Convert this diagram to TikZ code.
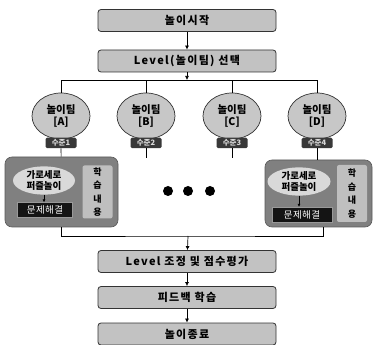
\documentclass[tikz,border=0pt]{standalone}
\usepackage{fontspec}
\setmainfont{Noto Sans CJK KR}
\usetikzlibrary{arrows.meta,shapes.geometric}
\tikzset{
  flowbox/.style={draw=black!80, line width=0.8pt, fill=black!24, rounded corners=3pt,
    minimum width=178pt, minimum height=22pt, inner sep=0pt,
    font=\bfseries\fontsize{11}{12}\selectfont\addfontfeature{LetterSpace=12}},
  team/.style={ellipse, draw=black!80, line width=0.7pt, fill=black!22, minimum width=58pt,
    minimum height=46pt, inner sep=0pt, align=center,
    font=\bfseries\fontsize{10.5}{12}\selectfont},
  lvl/.style={fill=black!78, text=black!15, rounded corners=1.5pt, minimum width=31pt,
    minimum height=10.5pt, inner sep=0pt, font=\bfseries\fontsize{7.5}{8}\selectfont},
  group/.style={fill=black!50, draw=black!65, line width=0.6pt, rounded corners=7pt, inner sep=0pt},
  puzzle/.style={ellipse, fill=black!15, inner sep=0pt, align=center,
    font=\bfseries\fontsize{9.5}{11}\selectfont},
  solve/.style={fill=black!92, text=white, inner sep=0pt, draw=black!40,
    font=\fontsize{9.5}{10}\selectfont\addfontfeature{LetterSpace=5}},
  learn/.style={fill=black!25, rounded corners=2pt, inner sep=0pt, align=center,
    font=\bfseries\fontsize{9}{13.5}\selectfont},
  dot/.style={circle, fill=black, minimum size=10pt, inner sep=0pt},
  conn/.style={draw=black, line width=0.7pt},
  arr/.style={-{Latex[length=4pt,width=4pt]}}
}
\begin{document}
\begin{tikzpicture}[x=1pt,y=-1pt]
\useasboundingbox (0,0) rectangle (373,345);
\fill[white] (0,0) rectangle (373,345);

% main flow boxes
\node[flowbox] (start) at (187,20.5) {놀이시작};
\node[flowbox] (level) at (187,61) {Level(놀이팀) 선택};
\node[flowbox] (adjust) at (187,261.5) {Level 조정 및 점수평가};
\node[flowbox] (feed) at (187,297.5) {피드백 학습};
\node[flowbox] (end) at (187,334) {놀이종료};

% teams
\node[team] (tA) at (61,116) {놀이팀\\{[A]}};
\node[team] (tB) at (146,116) {놀이팀\\{[B]}};
\node[team] (tC) at (232,116) {놀이팀\\{[C]}};
\node[team] (tD) at (317,116) {놀이팀\\{[D]}};
\node[lvl] (lA) at (61,143) {수준1};
\node[lvl] (lB) at (146,143) {수준2};
\node[lvl] (lC) at (232,143) {수준3};
\node[lvl] (lD) at (317,143) {수준4};

% group A
\node[group, minimum width=113pt, minimum height=70pt] (gA) at (61.5,192) {};
\node[puzzle, minimum width=62pt, minimum height=27pt] (pA) at (44,180.5) {가로세로\\퍼즐놀이};
\node[solve, minimum width=55pt, minimum height=15pt] (sA) at (45,210) {문제해결};
\node[learn, minimum width=30pt, minimum height=53pt] (kA) at (97.5,192) {학\\습\\내\\용};

% group D
\node[group, minimum width=107pt, minimum height=67pt] (gD) at (318.5,193.5) {};
\node[puzzle, minimum width=63pt, minimum height=26pt] (pD) at (299,181.5) {가로세로\\퍼즐놀이};
\node[solve, minimum width=60pt, minimum height=15pt] (sD) at (302,214.5) {문제해결};
\node[learn, minimum width=30pt, minimum height=57pt] (kD) at (352,193.5) {학\\습\\내\\용};

% dots
\node[dot] (d1) at (168,191) {};
\node[dot] (d2) at (188,191) {};
\node[dot] (d3) at (210,191) {};

% coordinates
\coordinate (split) at (187,80);
\coordinate (join) at (188,236);
\coordinate (bEnd) at (146,158);
\coordinate (cEnd) at (232,158);

% connectors
\draw[conn,arr] (start) -- (level);
\draw[conn,arr] (level) -- (split);
\draw[conn] (tA.north) -- (tA.north |- split) -- (tD.north |- split) -- (tD.north);
\draw[conn] (tB.north) -- (tB.north |- split);
\draw[conn] (tC.north) -- (tC.north |- split);
\draw[conn] (lA) -- (gA);
\draw[conn] (lB) -- (bEnd);
\draw[conn] (lC) -- (cEnd);
\draw[conn] (lD) -- (lD |- gD.north);
\draw[conn,-{Latex[length=3pt,width=3pt]}] (pA.south) -- (sA.north -| pA.south);
\draw[conn,-{Latex[length=3pt,width=3pt]}] (pD.south) -- (sD.north -| pD.south);
\draw[conn] (gA.south) |- (join) -| ([xshift=4.5pt]gD.south);
\draw[conn,arr] (join) -- (adjust);
\draw[conn,arr] (adjust) -- (feed);
\draw[conn,arr] (feed) -- (end);
\end{tikzpicture}
\end{document}
